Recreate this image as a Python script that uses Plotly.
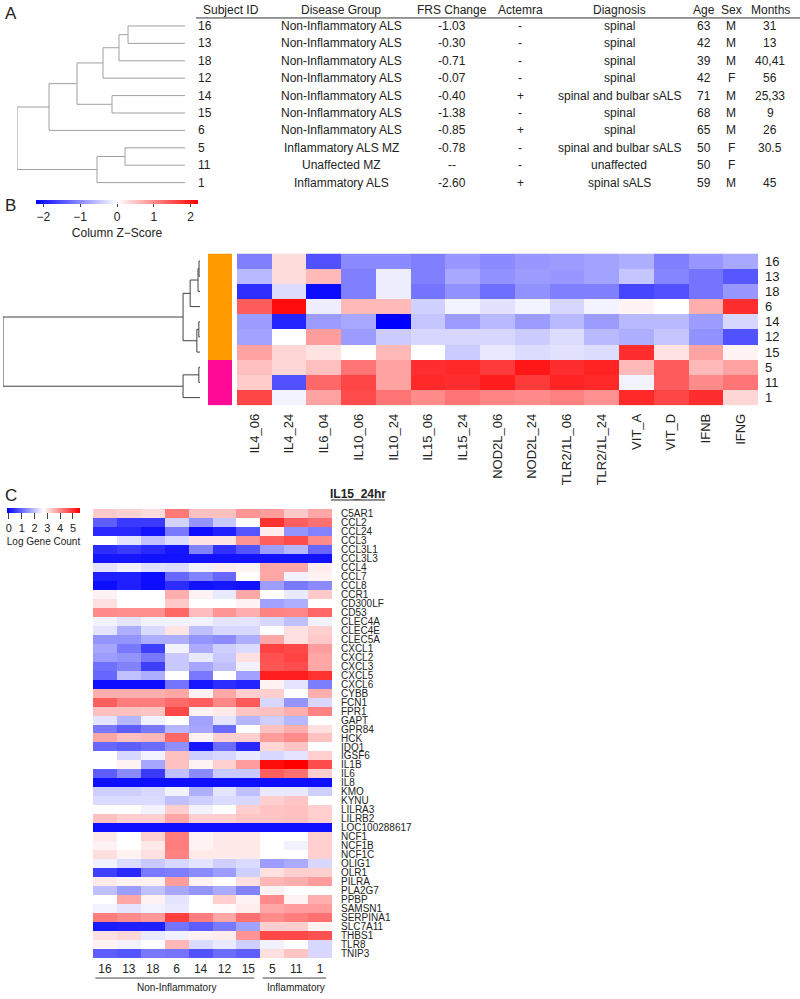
import plotly.graph_objects as go

FONT = "Liberation Sans, Arial, Helvetica, sans-serif"
W, H = 800, 999


def px(x):
    return x / W


def py(y):
    return 1 - y / H


# ---------------- Panel A data ----------------
subject_ids = ["16", "13", "18", "12", "14", "15", "6", "5", "11", "1"]
disease_group = ["Non-Inflammatory ALS"] * 7 + ["Inflammatory ALS MZ", "Unaffected MZ", "Inflammatory ALS"]
frs_change = ["-1.03", "-0.30", "-0.71", "-0.07", "-0.40", "-1.38", "-0.85", "-0.78", "--", "-2.60"]
actemra = ["-", "-", "-", "-", "+", "-", "+", "-", "-", "+"]
diagnosis = ["spinal", "spinal", "spinal", "spinal", "spinal and bulbar sALS", "spinal", "spinal",
             "spinal and bulbar sALS", "unaffected", "spinal sALS"]
age = ["63", "42", "39", "42", "71", "68", "65", "50", "50", "59"]
sex = ["M", "M", "M", "F", "M", "M", "M", "F", "F", "M"]
months = ["31", "13", "40,41", "56", "25,33", "9", "26", "30.5", "", "45"]
table_headers = ["Subject ID", "Disease Group", "FRS Change", "Actemra", "Diagnosis", "Age", "Sex", "Months"]

# merges: (child, child, height); int = earlier merge index, str = leaf
dendro_a_merges = [("16", "13", 0.57), (0, "18", 0.66), (1, "12", 0.82), ("14", "15", 0.73),
                   (2, 3, 1.08), (4, "6", 1.36), ("5", "11", 0.60), (6, "1", 0.88), (5, 7, 1.68)]

# ---------------- Panel B data ----------------
b_subjects = ["16", "13", "18", "6", "14", "12", "15", "5", "11", "1"]
b_groups = ["Non-Inflammatory"] * 7 + ["Inflammatory"] * 3
b_conditions = ["IL4_06", "IL4_24", "IL6_04", "IL10_06", "IL10_24", "IL15_06", "IL15_24", "NOD2L_06",
                "NOD2L_24", "TLR2/1L_06", "TLR2/1L_24", "VIT_A", "VIT_D", "IFNB", "IFNG"]
b_zscores = [
    [-1.1, 0.3, -1.5, -1.0, -1.0, -1.1, -0.9, -1.0, -0.9, -0.85, -0.8, -0.7, -1.1, -0.9, -0.75],
    [-0.6, 0.3, 0.6, -1.1, -0.15, -1.1, -0.75, -0.95, -0.85, -0.9, -0.8, -0.5, -1.05, -1.2, -1.45],
    [-1.8, -0.3, -2.1, -1.1, -0.15, -1.2, -0.95, -1.25, -0.95, -1.1, -1.1, -1.6, -1.5, -1.2, -0.9],
    [1.4, 2.1, -0.15, 0.6, 0.6, -0.4, -0.1, -0.25, -0.1, -0.35, -0.1, 0.1, 0.0, 0.7, 1.8],
    [-0.85, -1.9, -0.85, -0.75, -2.2, -0.5, -0.85, -0.6, -0.85, -0.6, -0.85, -0.6, -0.6, -0.85, -0.35],
    [-0.8, 0.0, 0.85, -0.85, -0.45, -0.35, -0.35, -0.35, -0.45, -0.3, -0.6, -0.7, -0.5, -0.95, -1.5],
    [0.8, 0.35, 0.25, 0.0, 0.6, 0.0, -0.45, -0.2, -0.3, -0.25, -0.3, 1.8, 0.25, 0.8, 0.1],
    [0.55, 0.35, 0.55, 1.2, 0.8, 1.8, 1.85, 1.7, 2.0, 1.8, 1.9, 0.6, 1.4, 0.6, 0.8],
    [0.45, -1.5, 1.3, 1.6, 0.8, 1.85, 1.8, 1.95, 1.7, 1.9, 1.85, -0.1, 1.4, 1.0, 1.2],
    [1.6, -0.1, 0.8, 1.55, 1.2, 1.0, 1.2, 1.05, 1.0, 1.1, 0.95, 1.85, 1.6, 1.8, 0.35],
]
dendro_b_merges = [("16", "13", 0.005), (0, "18", 0.01), (1, "6", 0.05), ("14", "12", 0.006),
                   (3, "15", 0.016), (2, 4, 0.086), ("5", "11", 0.006), (6, "1", 0.086), (5, 7, 1.0)]
b_zticks = [-2, -1, 0, 1, 2]

# ---------------- Panel C data ----------------
c_subjects = ["16", "13", "18", "6", "14", "12", "15", "5", "11", "1"]
c_groups = ["Non-Inflammatory"] * 7 + ["Inflammatory"] * 3
c_genes = ["C5AR1", "CCL2", "CCL24", "CCL3", "CCL3L1", "CCL3L3", "CCL4", "CCL7", "CCL8", "CCR1",
           "CD300LF", "CD53", "CLEC4A", "CLEC4E", "CLEC5A", "CXCL1", "CXCL2", "CXCL3", "CXCL5", "CXCL6",
           "CYBB", "FCN1", "FPR1", "GAPT", "GPR84", "HCK", "IDO1", "IGSF6", "IL1B", "IL6",
           "IL8", "KMO", "KYNU", "LILRA3", "LILRB2", "LOC100288617", "NCF1", "NCF1B", "NCF1C", "OLIG1",
           "OLR1", "PILRA", "PLA2G7", "PPBP", "SAMSN1", "SERPINA1", "SLC7A11", "THBS1", "TLR8", "TNIP3"]
c_log_counts = [
    [3.3, 3.2, 3.1, 4.2, 3.4, 3.4, 3.9, 3.8, 3.3, 3.7],
    [0.9, 0.5, 0.5, 2.2, 1.5, 2.1, 2.7, 5.0, 4.5, 4.3],
    [0.3, 0.3, 0.05, 1.2, 0.0, 0.2, 0.8, 2.9, 1.5, 1.3],
    [2.7, 2.4, 2.0, 2.3, 3.0, 3.0, 3.9, 4.5, 4.7, 4.0],
    [0.35, 0.5, 0.3, 0.1, 1.3, 0.4, 0.8, 1.6, 1.9, 1.0],
    [0.1, 0.1, 0.05, 0.05, 0.05, 0.05, 0.05, 0.05, 0.05, 0.05],
    [2.4, 2.55, 2.35, 2.3, 2.55, 2.9, 2.85, 3.7, 3.7, 2.9],
    [0.2, 0.2, 0.0, 1.0, 1.3, 1.0, 2.7, 3.7, 2.55, 2.85],
    [0.0, 0.2, 0.0, 0.35, 0.05, 0.1, 0.05, 1.6, 1.2, 1.4],
    [2.85, 2.7, 2.7, 3.6, 2.85, 2.45, 3.7, 2.7, 2.45, 3.3],
    [3.05, 2.7, 2.7, 3.3, 2.7, 2.7, 2.85, 1.65, 1.8, 2.7],
    [4.0, 3.95, 3.95, 4.4, 3.45, 3.9, 3.6, 4.1, 4.05, 4.4],
    [2.55, 2.4, 2.55, 2.55, 2.55, 2.4, 2.4, 2.25, 2.0, 2.55],
    [2.4, 1.8, 2.3, 3.0, 2.0, 2.25, 2.25, 2.7, 3.05, 3.25],
    [1.5, 1.5, 1.8, 1.8, 1.5, 1.4, 1.8, 3.7, 3.05, 3.3],
    [1.7, 1.2, 0.55, 2.55, 1.75, 2.15, 2.3, 4.8, 4.75, 3.8],
    [1.6, 1.5, 1.2, 2.1, 2.45, 2.1, 3.05, 4.65, 4.8, 3.7],
    [1.1, 1.3, 0.55, 2.1, 1.7, 2.0, 2.55, 4.6, 4.7, 3.7],
    [1.0, 2.0, 1.8, 2.7, 1.2, 2.7, 1.65, 5.2, 5.2, 5.0],
    [0.0, 0.0, 0.0, 1.15, 0.1, 0.35, 0.25, 2.85, 2.4, 1.25],
    [3.6, 3.6, 3.6, 3.7, 2.85, 3.7, 3.25, 3.25, 2.7, 3.6],
    [4.5, 4.15, 4.15, 4.35, 4.5, 4.05, 4.55, 2.25, 1.5, 2.25],
    [3.4, 3.4, 3.35, 4.75, 2.85, 2.95, 3.35, 3.4, 3.6, 4.1],
    [2.4, 1.9, 2.55, 2.7, 1.65, 2.4, 1.9, 2.15, 1.9, 2.7],
    [1.2, 0.9, 1.2, 1.9, 1.7, 1.05, 2.7, 3.4, 3.6, 3.05],
    [3.7, 3.4, 3.5, 4.4, 2.85, 3.25, 3.25, 3.8, 4.0, 3.4],
    [1.0, 0.9, 1.05, 1.45, 0.1, 1.05, 0.3, 3.15, 3.35, 2.7],
    [2.7, 2.25, 2.55, 3.4, 2.15, 2.25, 2.45, 2.25, 2.4, 3.25],
    [2.7, 2.85, 1.7, 3.4, 2.85, 3.25, 3.8, 5.4, 5.55, 4.7],
    [0.9, 1.4, 0.5, 2.0, 1.4, 2.1, 2.1, 4.5, 4.3, 3.25],
    [0.02, 0.02, 0.02, 0.02, 0.02, 0.02, 0.02, 0.02, 0.02, 0.02],
    [2.15, 2.15, 2.25, 2.55, 1.8, 2.4, 2.0, 2.45, 2.45, 2.15],
    [2.3, 2.3, 2.3, 2.0, 2.15, 2.3, 2.25, 3.25, 3.35, 2.7],
    [2.7, 2.7, 2.55, 3.25, 2.55, 2.7, 3.25, 3.35, 3.4, 3.25],
    [3.4, 3.25, 3.25, 3.7, 3.25, 3.25, 3.35, 3.35, 3.4, 3.25],
    [0.02, 0.02, 0.02, 0.02, 0.02, 0.02, 0.02, 0.02, 0.02, 0.02],
    [2.95, 2.7, 3.25, 4.15, 2.85, 2.95, 2.95, 2.7, 2.7, 3.25],
    [2.85, 2.7, 2.95, 4.15, 2.85, 2.95, 2.95, 2.7, 2.55, 3.25],
    [3.05, 2.85, 3.05, 4.1, 2.95, 2.95, 2.95, 2.7, 2.7, 3.25],
    [2.55, 2.3, 2.1, 2.25, 2.4, 2.15, 2.3, 1.6, 1.75, 2.25],
    [0.55, 0.3, 1.2, 1.25, 1.4, 1.6, 2.15, 3.05, 3.25, 3.25],
    [2.95, 2.85, 2.85, 3.8, 2.85, 2.7, 3.05, 3.5, 3.6, 3.8],
    [2.0, 1.6, 2.0, 1.7, 1.5, 1.75, 1.3, 2.85, 2.7, 2.7],
    [2.7, 3.7, 2.85, 2.4, 2.7, 3.25, 2.85, 4.0, 2.85, 3.6],
    [2.55, 2.4, 2.55, 2.45, 2.7, 2.75, 2.9, 3.7, 3.8, 3.8],
    [4.15, 4.0, 3.85, 4.85, 4.15, 3.7, 4.3, 4.0, 4.15, 4.3],
    [0.15, 0.2, 0.2, 1.15, 0.9, 1.2, 1.65, 3.25, 3.25, 2.85],
    [3.05, 3.15, 2.45, 2.55, 2.85, 2.9, 3.9, 4.75, 4.75, 4.65],
    [2.85, 2.55, 2.7, 3.5, 2.3, 2.45, 2.15, 2.55, 2.7, 2.25],
    [0.9, 0.8, 1.2, 1.15, 0.75, 1.05, 0.9, 3.05, 3.35, 2.25],
]
c_ticks = [0, 1, 2, 3, 4, 5]

BWR = [[0.0, "#0000FF"], [0.5, "#FFFFFF"], [1.0, "#FF0000"]]


def dendro_lines(leaves, merges):
    pos = {lab: i for i, lab in enumerate(leaves)}
    nodes = []
    xs, ys = [], []

    def get(c):
        if isinstance(c, int):
            return nodes[c]
        return (pos[c], 0.0)

    for a, b, h in merges:
        ya, ha = get(a)
        yb, hb = get(b)
        xs += [ha, h, h, hb, None]
        ys += [ya, ya, yb, yb, None]
        nodes.append(((ya + yb) / 2, h))
    return xs, ys, nodes[-1][1]


fig = go.Figure()

# ---- A: dendrogram ----
ax, ay, a_root = dendro_lines(subject_ids, dendro_a_merges)
fig.add_trace(go.Scatter(x=ax, y=ay, mode="lines", line=dict(color="#a0a0a0", width=1),
                         xaxis="x", yaxis="y", hoverinfo="skip", showlegend=False))

# ---- B: dendrogram ----
bx, by, b_root = dendro_lines(b_subjects, dendro_b_merges)
fig.add_trace(go.Scatter(x=bx, y=by, mode="lines", line=dict(color="#404040", width=1),
                         xaxis="x4", yaxis="y4", hoverinfo="skip", showlegend=False))

# ---- B: group colour bar ----
group_codes = [[0 if g == "Non-Inflammatory" else 1] for g in b_groups]
fig.add_trace(go.Heatmap(z=group_codes, x=["group"], y=b_subjects, zmin=0, zmax=1,
                         colorscale=[[0, "#FF9900"], [0.5, "#FF9900"], [0.5, "#FF0A96"], [1, "#FF0A96"]],
                         showscale=False, xaxis="x3", yaxis="y3", hoverinfo="skip"))

# ---- B: heatmap ----
fig.add_trace(go.Heatmap(
    z=b_zscores, x=b_conditions, y=b_subjects, colorscale=BWR, zmin=-2.2, zmax=2.2,
    xaxis="x2", yaxis="y2",
    colorbar=dict(orientation="h", x=px(117), xanchor="center", y=py(199), yanchor="top",
                  len=162, lenmode="pixels", thickness=4, thicknessmode="pixels",
                  tickvals=b_zticks, ticktext=[("\u2212" + str(-t)) if t < 0 else str(t) for t in b_zticks],
                  ticks="outside", ticklen=3, tickcolor="#444", tickfont=dict(size=12, color="#222"),
                  title=dict(text="Column Z\u2212Score", side="bottom", font=dict(size=12, color="#222")),
                  outlinewidth=0, xpad=0, ypad=0),
))

# ---- C: heatmap ----
fig.add_trace(go.Heatmap(
    z=c_log_counts, x=c_subjects, y=c_genes, colorscale=BWR, zmin=-0.15, zmax=5.55,
    xaxis="x5", yaxis="y5",
    colorbar=dict(orientation="h", x=px(43.5), xanchor="center", y=py(508), yanchor="top",
                  len=73, lenmode="pixels", thickness=5, thicknessmode="pixels",
                  tickvals=c_ticks, ticks="outside", ticklen=6, tickcolor="#444",
                  tickfont=dict(size=11, color="#222"),
                  title=dict(text="Log Gene Count", side="bottom", font=dict(size=10, color="#222")),
                  outlinewidth=0, xpad=0, ypad=0),
))

hidden = dict(visible=False, showgrid=False, zeroline=False)
fig.update_layout(
    width=W, height=H, margin=dict(l=0, r=0, t=0, b=0),
    paper_bgcolor="white", plot_bgcolor="white",
    font=dict(family=FONT, color="#222", size=12),
    xaxis=dict(domain=[px(17), px(185)], range=[a_root, 0], anchor="y", **hidden),
    yaxis=dict(domain=[py(190.7), py(16.3)], range=[len(subject_ids) - 0.5, -0.5], anchor="x", **hidden),
    xaxis2=dict(domain=[px(237), px(758)], anchor="y2", type="category", tickangle=-90,
                tickmode="array", tickvals=b_conditions, ticktext=b_conditions,
                showgrid=False, zeroline=False, ticks="", showline=False,
                tickfont=dict(size=13), ticklabelstandoff=5),
    yaxis2=dict(domain=[py(405), py(253)], anchor="x2", type="category", autorange="reversed",
                tickmode="array", tickvals=b_subjects, ticktext=b_subjects,
                side="right", showgrid=False, zeroline=False, ticks="", showline=False,
                tickfont=dict(size=13), ticklabelstandoff=6),
    xaxis3=dict(domain=[px(208), px(232)], anchor="y3", type="category", **hidden),
    yaxis3=dict(domain=[py(405), py(253)], anchor="x3", type="category", autorange="reversed", **hidden),
    xaxis4=dict(domain=[px(3), px(200)], range=[b_root, 0], anchor="y4", **hidden),
    yaxis4=dict(domain=[py(405), py(253)], range=[len(b_subjects) - 0.5, -0.5], anchor="x4", **hidden),
    xaxis5=dict(domain=[px(93), px(332)], anchor="y5", type="category",
                tickmode="array", tickvals=c_subjects, ticktext=c_subjects,
                showgrid=False, zeroline=False, ticks="", showline=False,
                tickfont=dict(size=12), ticklabelstandoff=2),
    yaxis5=dict(domain=[py(959), py(509)], anchor="x5", type="category", autorange="reversed",
                tickmode="array", tickvals=c_genes, ticktext=c_genes,
                side="right", showgrid=False, zeroline=False, ticks="", showline=False,
                tickfont=dict(size=10), ticklabelstandoff=8),
)

annotations = []
shapes = []

# panel letters
for letter, xx, yy in [("A", 3, 1), ("B", 3, 193), ("C", 3, 484)]:
    annotations.append(dict(text=letter, x=px(xx), y=py(yy), xref="paper", yref="paper",
                            xanchor="left", yanchor="top", showarrow=False, font=dict(size=17)))

# table
col_x = [231, 341, 452, 520, 619, 704, 731, 770]
columns = [subject_ids, disease_group, frs_change, actemra, diagnosis, age, sex, months]
for hdr, cx in zip(table_headers, col_x):
    annotations.append(dict(text=hdr, x=px(cx), y=py(9.5), xref="paper", yref="paper",
                            xanchor="center", yanchor="middle", showarrow=False, font=dict(size=12)))
for ci, (vals, cx) in enumerate(zip(columns, col_x)):
    for ri, v in enumerate(vals):
        if v == "":
            continue
        if ci == 0:
            annotations.append(dict(text=v, x=px(196), y=ri, xref="paper", yref="y", xanchor="left",
                                    yanchor="middle", showarrow=False, font=dict(size=12)))
        else:
            annotations.append(dict(text=v, x=px(cx), y=ri, xref="paper", yref="y", xanchor="center",
                                    yanchor="middle", showarrow=False, font=dict(size=12)))
shapes.append(dict(type="line", xref="paper", yref="paper", x0=px(196), x1=px(800), y0=py(17), y1=py(17),
                   line=dict(color="#333", width=1)))

# panel C title
annotations.append(dict(text="<b>IL15_24hr</b>", x=px(358), y=py(494), xref="paper", yref="paper",
                        xanchor="center", yanchor="middle", showarrow=False, font=dict(size=12)))
shapes.append(dict(type="line", xref="paper", yref="paper", x0=px(331), x1=px(385), y0=py(500), y1=py(500),
                   line=dict(color="#222", width=1)))

# panel C group brackets
for grp in ["Non-Inflammatory", "Inflammatory"]:
    idx = [i for i, g in enumerate(c_groups) if g == grp]
    x0 = idx[0] - 0.4
    x1 = idx[-1] + 0.25
    shapes.append(dict(type="line", xref="x5", yref="paper", x0=x0, x1=x1, y0=py(979), y1=py(979),
                       line=dict(color="#444", width=1)))
    annotations.append(dict(text=grp, x=(idx[0] + idx[-1]) / 2, y=py(988), xref="x5", yref="paper",
                            xanchor="center", yanchor="middle", showarrow=False, font=dict(size=10)))

fig.update_layout(annotations=annotations, shapes=shapes)
fig.write_html("out.html",
               config={"displayModeBar": False},
               post_script="document.body.style.margin='0px';document.body.style.overflow='hidden';")
